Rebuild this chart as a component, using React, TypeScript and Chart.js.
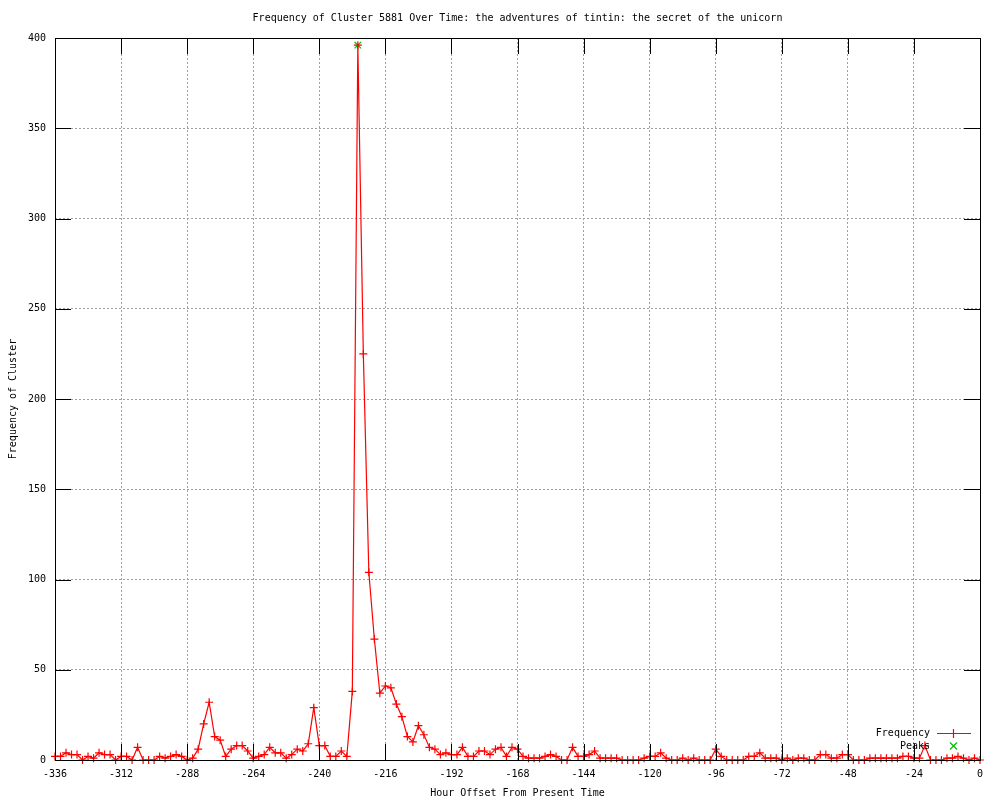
import React, { useEffect, useRef } from "react";
import { Chart, registerables } from "chart.js";

Chart.register(...registerables);

const TITLE = "Frequency of Cluster 5881 Over Time: the adventures of tintin: the secret of the unicorn";
const X_TITLE = "Hour Offset From Present Time";
const Y_TITLE = "Frequency of Cluster";

const hours = [
  -336, -334, -332, -330, -328, -326, -324, -322, -320, -318, -316, -314,
  -312, -310, -308, -306, -304, -302, -300, -298, -296, -294, -292, -290,
  -288, -286, -284, -282, -280, -278, -276, -274, -272, -270, -268, -266,
  -264, -262, -260, -258, -256, -254, -252, -250, -248, -246, -244, -242,
  -240, -238, -236, -234, -232, -230, -228, -226, -224, -222, -220, -218,
  -216, -214, -212, -210, -208, -206, -204, -202, -200, -198, -196, -194,
  -192, -190, -188, -186, -184, -182, -180, -178, -176, -174, -172, -170,
  -168, -166, -164, -162, -160, -158, -156, -154, -152, -150, -148, -146,
  -144, -142, -140, -138, -136, -134, -132, -130, -128, -126, -124, -122,
  -120, -118, -116, -114, -112, -110, -108, -106, -104, -102, -100, -98,
  -96, -94, -92, -90, -88, -86, -84, -82, -80, -78, -76, -74,
  -72, -70, -68, -66, -64, -62, -60, -58, -56, -54, -52, -50,
  -48, -46, -44, -42, -40, -38, -36, -34, -32, -30, -28, -26,
  -24, -22, -20, -18, -16, -14, -12, -10, -8, -6, -4, -2,
  0,
];

const frequency = [
  2, 2, 4, 3, 3, 0, 2, 1, 4, 3, 3, 0,
  2, 2, 0, 7, 0, 0, 0, 2, 1, 2, 3, 2,
  0, 1, 6, 20, 32, 13, 11, 2, 6, 8, 8, 5,
  1, 2, 3, 7, 4, 4, 1, 3, 6, 5, 9, 29,
  8, 8, 2, 2, 5, 2, 38, 396, 225, 104, 67, 37,
  41, 40, 31, 24, 13, 10, 19, 14, 7, 6, 3, 4,
  3, 3, 7, 2, 2, 5, 5, 3, 6, 7, 2, 7,
  6, 2, 1, 1, 1, 2, 3, 2, 0, 0, 7, 2,
  2, 3, 5, 1, 1, 1, 1, 0, 0, 0, 0, 1,
  2, 2, 4, 1, 0, 0, 1, 0, 1, 0, 0, 0,
  6, 2, 0, 0, 0, 0, 2, 2, 4, 1, 1, 1,
  0, 1, 0, 1, 1, 0, 0, 3, 3, 1, 1, 3,
  3, 0, 0, 0, 1, 1, 1, 1, 1, 1, 2, 2,
  1, 1, 8, 0, 0, 0, 1, 1, 2, 1, 0, 1,
  0,
];

const peakHours = [-226];
const peakValues = [396];

const xTicks = [-336, -312, -288, -264, -240, -216, -192, -168, -144, -120, -96, -72, -48, -24, 0];
const yTicks = [0, 50, 100, 150, 200, 250, 300, 350, 400];

const FONT = "'DejaVu Sans Mono', monospace";
const RED = "rgb(255, 0, 0)";
const GREEN = "rgb(0, 192, 0)";

const framePlugin = {
  id: "gnuFrame",
  afterDatasetsDraw(chart: any) {
    const { ctx, chartArea } = chart;
    const xs = chart.scales.x;
    const ys = chart.scales.y;
    const { left, right, top, bottom } = chartArea;
    const TL = 16;
    ctx.save();
    ctx.setLineDash([]);
    ctx.globalAlpha = 1;
    ctx.fillStyle = "#000000";
    xTicks.forEach((v) => {
      const px = Math.round(xs.getPixelForValue(v));
      ctx.fillRect(px, bottom - TL, 1, TL);
      ctx.fillRect(px, top, 1, TL);
    });
    yTicks.forEach((v) => {
      const py = Math.round(ys.getPixelForValue(v));
      ctx.fillRect(left, py, TL, 1);
      ctx.fillRect(right - TL, py, TL, 1);
    });
    ctx.fillRect(left, top, right - left + 1, 1);
    ctx.fillRect(left, bottom, right - left + 1, 1);
    ctx.fillRect(left, top, 1, bottom - top + 1);
    ctx.fillRect(right, top, 1, bottom - top + 1);

    // title centred over the plot area
    ctx.font = `10px ${FONT}`;
    ctx.textAlign = "center";
    ctx.textBaseline = "middle";
    ctx.fillText(TITLE, (left + right) / 2, 18);

    // legend labels (inside, bottom right)
    const ds0 = chart.data.datasets[0];
    const ds1 = chart.data.datasets[1];
    ctx.textAlign = "right";
    ctx.fillText(ds0.label, 930, 733);
    ctx.fillText(ds1.label, 930, 746);
    ctx.restore();

    // legend samples
    ctx.save();
    ctx.setLineDash([]);
    ctx.lineWidth = 1.2;
    ctx.strokeStyle = RED;
    ctx.beginPath();
    ctx.moveTo(937, 733.5);
    ctx.lineTo(971, 733.5);
    ctx.moveTo(953.5, 729);
    ctx.lineTo(953.5, 738);
    ctx.stroke();
    ctx.strokeStyle = GREEN;
    ctx.beginPath();
    ctx.moveTo(950, 742.5);
    ctx.lineTo(957, 749.5);
    ctx.moveTo(957, 742.5);
    ctx.lineTo(950, 749.5);
    ctx.stroke();
    ctx.restore();
  },
};

export default function App() {
  const ref = useRef<HTMLCanvasElement | null>(null);

  useEffect(() => {
    if (!ref.current) return;
    const freqData = hours.map((h, i) => ({ x: h, y: frequency[i] }));
    const peakData = peakHours.map((h, i) => ({ x: h, y: peakValues[i] }));
    const chart = new Chart(ref.current, {
      type: "line",
      data: {
        datasets: [
          {
            label: "Frequency",
            data: freqData,
            borderColor: RED,
            backgroundColor: RED,
            borderWidth: 1.2,
            pointStyle: "cross",
            pointRadius: 4,
            pointBorderWidth: 1.2,
            pointBorderColor: RED,
            tension: 0,
            fill: false,
            clip: false as any,
          },
          {
            label: "Peaks",
            data: peakData,
            showLine: false,
            borderColor: GREEN,
            backgroundColor: GREEN,
            pointStyle: "crossRot",
            pointRadius: 4.5,
            pointBorderWidth: 1.2,
            pointBorderColor: GREEN,
            clip: false as any,
          },
        ],
      },
      options: {
        animation: false,
        responsive: false,
        devicePixelRatio: 1,
        layout: { padding: { left: 0, right: 20, top: 38, bottom: 0 } },
        plugins: {
          legend: { display: false },
          tooltip: { enabled: false },
          title: { display: false },
        },
        scales: {
          x: {
            type: "linear",
            min: -336,
            max: 0,
            afterBuildTicks: (s: any) => {
              s.ticks = xTicks.map((v) => ({ value: v }));
            },
            afterFit: (s: any) => {
              s.height = 40;
            },
            ticks: {
              autoSkip: false,
              maxRotation: 0,
              padding: 8,
              color: "#000",
              font: { family: FONT, size: 10 },
            },
            grid: {
              color: "#a0a0a0",
              lineWidth: 1,
              drawTicks: false,
            },
            border: { display: false, dash: [2, 2] },
            title: {
              display: true,
              text: X_TITLE,
              color: "#000",
              font: { family: FONT, size: 10 },
              padding: { top: 0, bottom: 1 },
            },
          },
          y: {
            type: "linear",
            min: 0,
            max: 400,
            afterBuildTicks: (s: any) => {
              s.ticks = yTicks.map((v) => ({ value: v }));
            },
            afterFit: (s: any) => {
              s.width = 55;
            },
            ticks: {
              padding: 9,
              color: "#000",
              font: { family: FONT, size: 10 },
            },
            grid: {
              color: "#a0a0a0",
              lineWidth: 1,
              drawTicks: false,
            },
            border: { display: false, dash: [2, 2] },
            title: {
              display: true,
              text: Y_TITLE,
              color: "#000",
              font: { family: FONT, size: 10 },
              padding: { top: 7, bottom: 0 },
            },
          },
        },
      },
      plugins: [framePlugin],
    });
    return () => chart.destroy();
  }, []);

  return (
    <div style={{ position: "fixed", left: 0, top: 0, width: 1000, height: 800, background: "#fff" }}>
      <canvas ref={ref} width={1000} height={800} style={{ width: 1000, height: 800, display: "block" }} />
    </div>
  );
}
